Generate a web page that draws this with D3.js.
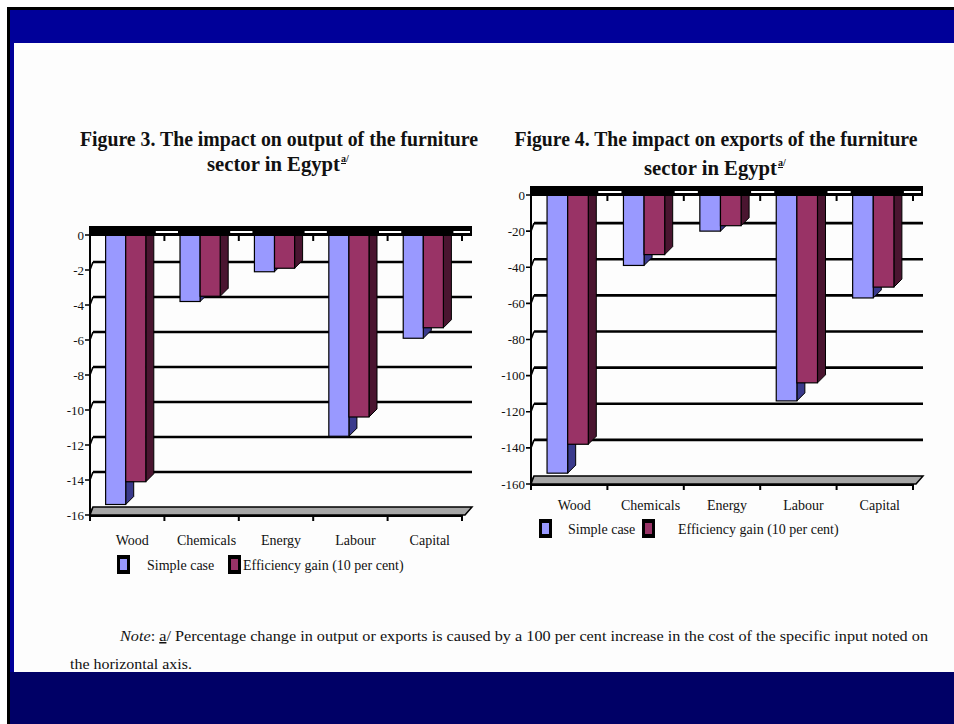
<!DOCTYPE html>
<html>
<head>
<meta charset="utf-8">
<script src="https://cdn.jsdelivr.net/npm/d3@7"></script>
<style>
  html, body { margin: 0; padding: 0; background: #ffffff; }
  svg { display: block; }
  text { font-family: "Liberation Serif", "Times New Roman", serif; fill: #111; }
</style>
</head>
<body>
<svg id="slide" width="954" height="724"></svg>
<script>
// Input categories shared by both figures
const categories = ["Wood", "Chemicals", "Energy", "Labour", "Capital"];

// Figure 3: percentage change in output
const outputSimple = [-15.4, -3.8, -2.1, -11.5, -5.9];
const outputEfficiency = [-14.1, -3.5, -1.9, -10.4, -5.3];
const outputTicks = [0, -2, -4, -6, -8, -10, -12, -14, -16];

// Figure 4: percentage change in exports
const exportsSimple = [-154, -39, -20, -114, -57];
const exportsEfficiency = [-138, -33, -17, -104, -51];
const exportTicks = [0, -20, -40, -60, -80, -100, -120, -140, -160];

const seriesNames = ["Simple case", "Efficiency gain (10 per cent)"];
const seriesFill = ["#9999ff", "#993366"];
const seriesSide = ["#3a3a8c", "#4a1530"];

const svg = d3.select("#slide");

// slide background
svg.append("rect").attr("x", 0).attr("y", 0).attr("width", 954).attr("height", 724).attr("fill", "#ffffff");
svg.append("rect").attr("x", 14).attr("y", 43).attr("width", 940).attr("height", 629).attr("fill", "#fdfdfd");

function drawChart(cfg) {
  const g = svg.append("g");
  const y = d3.scaleLinear().domain([0, cfg.ticks[cfg.ticks.length - 1]]).range([cfg.zeroY, cfg.minY]);
  const x = d3.scaleBand().domain(categories).range([cfg.axisX, cfg.plotRight]);
  const bw = x.bandwidth();
  const wallL = cfg.axisX + 3, wallR = cfg.plotRight + 10, dy = -8;
  const yMin = cfg.ticks[cfg.ticks.length - 1];

  // back-wall gridlines
  g.selectAll(".grid").data(cfg.ticks.filter(t => t !== 0 && t !== yMin)).join("line")
    .attr("x1", wallL).attr("x2", wallR)
    .attr("y1", d => y(d) + dy).attr("y2", d => y(d) + dy)
    .attr("stroke", "#000").attr("stroke-width", 2.6);

  // connectors from axis ticks to the wall
  g.selectAll(".conn").data(cfg.ticks).join("path")
    .attr("d", d => `M${cfg.axisX - 5},${y(d)}L${cfg.axisX},${y(d)}L${wallL},${y(d) + dy}`)
    .attr("fill", "none").attr("stroke", "#000").attr("stroke-width", 1.6);

  // floor slab
  const fy = y(yMin);
  g.append("path")
    .attr("d", `M${cfg.axisX},${fy}L${wallL},${fy + dy}L${wallR},${fy + dy}L${cfg.plotRight + 3},${fy}Z`)
    .attr("fill", "#a6a6a6").attr("stroke", "#000").attr("stroke-width", 1.5);

  // 3D columns
  const off = bw * 0.21, w = bw * 0.27, depth = 8;
  [cfg.simple, cfg.efficiency].forEach((vals, s) => {
    vals.forEach((v, i) => {
      const x0 = x(categories[i]) + off + s * w, x1 = x0 + w;
      const y0 = y(0), y1 = y(v);
      g.append("path")
        .attr("d", `M${x1},${y0}L${x1 + depth},${y0 + dy}L${x1 + depth},${y1 + dy}L${x1},${y1}Z`)
        .attr("fill", seriesSide[s]).attr("stroke", "#000").attr("stroke-width", 1);
      g.append("rect").attr("x", x0).attr("y", y0).attr("width", w).attr("height", y1 - y0)
        .attr("fill", seriesFill[s]).attr("stroke", "#000").attr("stroke-width", 1.2);
    });
  });

  // zero slab, drawn over the column tops
  const zy = y(0);
  g.append("rect").attr("x", cfg.axisX).attr("y", zy - 9).attr("width", wallR - cfg.axisX).attr("height", 10)
    .attr("fill", "#000");
  categories.forEach((c, i) => {
    const gx0 = x(c) + off + 2 * w + depth + 2;
    const gx1 = i < categories.length - 1 ? x(categories[i + 1]) + off - 2 : wallR - 2;
    g.append("line").attr("x1", gx0).attr("x2", gx1).attr("y1", zy - 3).attr("y2", zy - 3)
      .attr("stroke", "#fff").attr("stroke-width", 2);
  });

  // small category ticks under the zero slab
  g.selectAll(".topTick").data(categories.slice(1).map(c => x(c)).concat([cfg.plotRight])).join("line")
    .attr("x1", d => d).attr("x2", d => d).attr("y1", zy).attr("y2", zy + 6)
    .attr("stroke", "#000").attr("stroke-width", 2);

  // value axis
  g.append("line").attr("x1", cfg.axisX).attr("x2", cfg.axisX).attr("y1", zy - 9).attr("y2", fy + 6)
    .attr("stroke", "#000").attr("stroke-width", 2);
  g.selectAll(".ylab").data(cfg.ticks).join("text")
    .attr("x", cfg.axisX - 6).attr("y", d => y(d)).attr("dy", "0.35em")
    .attr("text-anchor", "end").attr("font-size", 13).text(d => String(d));

  // category axis
  g.append("line").attr("x1", cfg.axisX).attr("x2", cfg.plotRight).attr("y1", fy + 1).attr("y2", fy + 1)
    .attr("stroke", "#000").attr("stroke-width", 2);
  g.selectAll(".xtick").data(categories.map(c => x(c)).concat([cfg.plotRight])).join("line")
    .attr("x1", d => d).attr("x2", d => d).attr("y1", fy).attr("y2", fy + 6)
    .attr("stroke", "#000").attr("stroke-width", 2);
  g.selectAll(".xlab").data(categories).join("text")
    .attr("x", d => x(d) + bw / 2 + 5).attr("y", cfg.catY)
    .attr("text-anchor", "middle").attr("font-size", 14).text(d => d);

  // legend
  const lg = g.append("g");
  cfg.legend.forEach((L, s) => {
    lg.append("rect").attr("x", L.sx).attr("y", L.sy).attr("width", 13).attr("height", 19).attr("fill", "#000");
    lg.append("rect").attr("x", L.sx + 3).attr("y", L.sy + 4).attr("width", 7).attr("height", 11).attr("fill", seriesFill[s]);
    lg.append("text").attr("x", L.tx).attr("y", L.sy + 15).attr("font-size", 14).text(seriesNames[s]);
  });

  // title
  const t = g.append("g");
  t.append("text").attr("x", cfg.titleX).attr("y", cfg.titleY).attr("text-anchor", "middle")
    .attr("font-size", 20).attr("font-weight", "bold")
    .attr("textLength", cfg.titleW).attr("lengthAdjust", "spacingAndGlyphs").text(cfg.title);
  t.append("text").attr("x", cfg.titleX - 72).attr("y", cfg.titleY + cfg.line2dy)
    .attr("font-size", 20).attr("font-weight", "bold")
    .attr("textLength", 133).attr("lengthAdjust", "spacingAndGlyphs").text("sector in Egypt");
  t.append("text").attr("x", cfg.titleX - 72 + 134).attr("y", cfg.titleY + cfg.line2dy - 9)
    .attr("font-size", 10).attr("font-weight", "bold")
    .html('<tspan text-decoration="underline">a</tspan>/');
}

drawChart({
  axisX: 90, plotRight: 462, zeroY: 235, minY: 515,
  ticks: outputTicks, simple: outputSimple, efficiency: outputEfficiency,
  catY: 545,
  legend: [{ sx: 117, sy: 555, tx: 147 }, { sx: 228, sy: 555, tx: 243 }],
  title: "Figure 3.  The impact on output of the furniture", titleX: 279, titleY: 146, titleW: 398, line2dy: 25
});

drawChart({
  axisX: 531, plotRight: 913, zeroY: 195, minY: 484,
  ticks: exportTicks, simple: exportsSimple, efficiency: exportsEfficiency,
  catY: 510,
  legend: [{ sx: 539, sy: 519, tx: 568 }, { sx: 642, sy: 519, tx: 678 }],
  title: "Figure 4.  The impact on exports of the furniture", titleX: 716, titleY: 146, titleW: 403, line2dy: 29
});

// footnote
svg.append("text").attr("x", 120).attr("y", 641).attr("font-size", 15)
  .attr("textLength", 808).attr("lengthAdjust", "spacingAndGlyphs")
  .html('<tspan font-style="italic">Note</tspan>: <tspan text-decoration="underline">a</tspan>/ Percentage change in output or exports is caused by a 100 per cent increase in the cost of the specific input noted on');
svg.append("text").attr("x", 70).attr("y", 669).attr("font-size", 15)
  .attr("textLength", 122).attr("lengthAdjust", "spacingAndGlyphs").text("the horizontal axis.");

// slide frame bands
svg.append("rect").attr("x", 10).attr("y", 10).attr("width", 944).attr("height", 33).attr("fill", "#000099");
svg.append("rect").attr("x", 10).attr("y", 10).attr("width", 4).attr("height", 714).attr("fill", "#000099");
svg.append("rect").attr("x", 10).attr("y", 672).attr("width", 944).attr("height", 52).attr("fill", "#000066");
svg.append("rect").attr("x", 7).attr("y", 7).attr("width", 947).attr("height", 3).attr("fill", "#000");
svg.append("rect").attr("x", 7).attr("y", 7).attr("width", 3).attr("height", 717).attr("fill", "#000");
</script>
</body>
</html>
